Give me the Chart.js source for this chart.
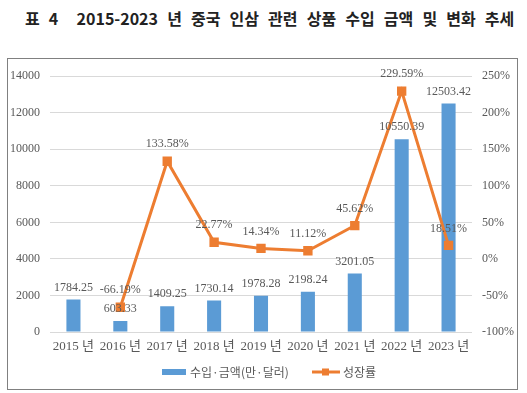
<!DOCTYPE html>
<html>
<head>
<meta charset="utf-8">
<script src="https://cdn.jsdelivr.net/npm/chart.js@4"></script>
<style>
  body { margin: 0; background: #fff; width: 527px; height: 393px; position: relative; overflow: hidden; }
  #title { position: absolute; left: 25px; top: 6px; font: bold 16px 'Noto Sans CJK KR', sans-serif; color: #222; white-space: pre; word-spacing: 5.5px; }
  #box { position: absolute; left: 7px; top: 58px; width: 509px; height: 330px; border: 1px solid #808080; }
  #box canvas { display: block; }
</style>
</head>
<body>
<div id="title">표 4  2015-2023 년 중국 인삼 관련 상품 수입 금액 및 변화 추세</div>
<div id="box"><canvas id="chart" width="509" height="330"></canvas></div>

<script type="text/javascript">
const years = ['2015 년', '2016 년', '2017 년', '2018 년', '2019 년', '2020 년', '2021 년', '2022 년', '2023 년'];
const importAmount = [1784.25, 603.33, 1409.25, 1730.14, 1978.28, 2198.24, 3201.05, 10550.39, 12503.42];
const growthRate = [null, -66.19, 133.58, 22.77, 14.34, 11.12, 45.62, 229.59, 18.51];
const amountTicks = [0, 14000, 2000];
const rateTicks = [-100, 250, 50];

const textColor = '#595959';
const numFont = "'Liberation Serif', 'Noto Sans CJK KR', serif";

// value labels above bars and points
const valueLabels = {
    id: 'valueLabels',
    afterDatasetsDraw(chart) {
        const ctx = chart.ctx;
        ctx.save();
        ctx.fillStyle = textColor;
        ctx.font = '12px ' + numFont;
        ctx.textAlign = 'center';
        ctx.textBaseline = 'middle';
        chart.data.datasets.forEach((ds, i) => {
            const meta = chart.getDatasetMeta(i);
            meta.data.forEach((el, j) => {
                const v = ds.data[j];
                if (v === null) return;
                if (ds.type === 'bar') {
                    ctx.fillText(v.toFixed(2), el.x, el.y - 12);
                } else {
                    ctx.fillText(v.toFixed(2) + '%', el.x, el.y - 17);
                }
            })
        })
        ctx.restore();
    }
};

// legend drawn at the bottom like the original
const bottomLegend = {
    id: 'bottomLegend',
    afterDraw(chart) {
        const ctx = chart.ctx;
        const y = 313;
        ctx.save();
        ctx.font = "12px 'Noto Sans CJK KR', sans-serif";
        ctx.textBaseline = 'middle';
        ctx.fillStyle = '#5B9BD5';
        ctx.fillRect(154, y - 3, 24, 6);
        ctx.fillStyle = textColor;
        ctx.fillText(chart.data.datasets[1].label, 182, y);
        ctx.strokeStyle = '#ED7D31';
        ctx.lineWidth = 3;
        ctx.beginPath();
        ctx.moveTo(304, y);
        ctx.lineTo(332, y);
        ctx.stroke();
        ctx.fillStyle = '#ED7D31';
        ctx.fillRect(314, y - 3.5, 7, 7);
        ctx.fillStyle = textColor;
        ctx.fillText(chart.data.datasets[0].label, 335, y);
        ctx.restore();
    }
};

new Chart(document.getElementById('chart'), {
    data: {
        labels: years,
        datasets: [{
            type: 'line',
            label: '성장률',
            data: growthRate,
            yAxisID: 'y1',
            borderColor: '#ED7D31',
            backgroundColor: '#ED7D31',
            borderWidth: 3,
            pointStyle: 'rect',
            pointRadius: 4.5,
            pointHoverRadius: 4.5,
            order: 0
        }, {
            type: 'bar',
            label: '수입·금액(만·달러)',
            data: importAmount,
            yAxisID: 'y',
            backgroundColor: '#5B9BD5',
            categoryPercentage: 1,
            barPercentage: 0.3,
            order: 1
        }]
    },
    options: {
        responsive: false,
        animation: false,
        layout: { padding: { top: 11, left: 0, right: 0, bottom: 0 } },
        plugins: {
            legend: { display: false },
            tooltip: { enabled: false }
        },
        scales: {
            x: {
                grid: { display: false, drawTicks: false },
                border: { display: false },
                ticks: { color: textColor, font: { size: 13, family: numFont }, padding: 7, maxRotation: 0, autoSkip: false },
                afterFit: (s) => { s.height = 57; }
            },
            y: {
                position: 'left',
                min: amountTicks[0],
                max: amountTicks[1],
                ticks: { stepSize: amountTicks[2], color: textColor, font: { size: 12, family: numFont }, padding: 10, callback: (v) => String(v) },
                grid: { color: '#D9D9D9', drawTicks: false },
                border: { display: false },
                afterFit: (s) => { s.width = 42; }
            },
            y1: {
                position: 'right',
                min: rateTicks[0],
                max: rateTicks[1],
                ticks: { stepSize: rateTicks[2], color: textColor, font: { size: 12, family: numFont }, padding: 10, callback: (v) => v + '%' },
                grid: { display: false, drawTicks: false },
                border: { display: false },
                afterFit: (s) => { s.width = 45; }
            }
        }
    },
    plugins: [valueLabels, bottomLegend]
});
</script>
</body>
</html>
